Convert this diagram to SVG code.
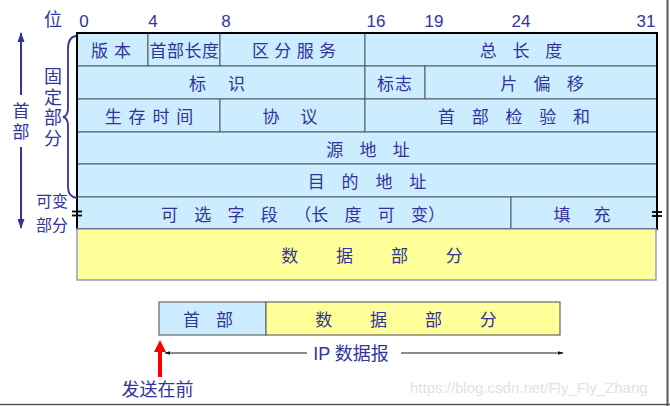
<svg xmlns="http://www.w3.org/2000/svg" width="670" height="406" viewBox="0 0 670 406">
<defs>
<style>
.t{font-family:"Noto Sans CJK SC","Liberation Sans",sans-serif;font-size:17px;fill:#333399;text-anchor:middle}
.n{font-family:"Liberation Sans","Noto Sans CJK SC",sans-serif;font-size:17px;fill:#333399;text-anchor:middle}
.v{font-family:"Noto Sans CJK SC",sans-serif;font-size:18px;fill:#333399;text-anchor:middle}
.vt{font-family:"Noto Sans CJK SC",sans-serif;fill:#333399;writing-mode:vertical-rl;text-anchor:start}
.c{fill:#CCECFF;stroke:#4d5a66;stroke-width:1}
.y{fill:#FFFF99;stroke:#9a9acc;stroke-width:1.5}
.yb{fill:#FFFF99;stroke:#666;stroke-width:1.2}
.cb{fill:#CCECFF;stroke:#666;stroke-width:1.2}
.ar{stroke:#333399;stroke-width:2;fill:none}
.thin{stroke:#666;stroke-width:1.3;fill:none}
</style>
<marker id="ah" viewBox="0 0 10 10" refX="9" refY="5" markerWidth="10" markerHeight="10" markerUnits="userSpaceOnUse" orient="auto"><path d="M0,1.5 L10,5 L0,8.5 Z" fill="#333399"/></marker>
<marker id="sh" viewBox="0 0 10 10" refX="9" refY="5" markerWidth="6" markerHeight="6" markerUnits="userSpaceOnUse" orient="auto"><path d="M0,2 L10,5 L0,8 Z" fill="#111"/></marker>
</defs>
<rect width="670" height="406" fill="#fff"/>
<g id="frame"><line x1="667.5" y1="0" x2="667.5" y2="406" stroke="#555" stroke-width="2"/><line x1="0" y1="404.5" x2="670" y2="404.5" stroke="#555" stroke-width="1.5"/></g>
<g id="bits">
<text class="v" x="53" y="26">位</text>
<text class="n" x="84" y="27">0</text>
<text class="n" x="153" y="27">4</text>
<text class="n" x="226" y="27">8</text>
<text class="n" x="376" y="27">16</text>
<text class="n" x="434" y="27">19</text>
<text class="n" x="521" y="27">24</text>
<text class="n" x="646" y="27">31</text>
</g>
<g id="ver"><rect class="c" x="77" y="33" width="71" height="33"/><text class="t" x="111" y="57" word-spacing="2">版 本</text></g>
<g id="ihl"><rect class="c" x="148" y="33" width="72" height="33"/><text class="t" x="184.5" y="57" letter-spacing="0.5">首部长度</text></g>
<g id="ds"><rect class="c" x="220" y="33" width="145" height="33"/><text class="t" x="294" y="57" word-spacing="1.5">区 分 服 务</text></g>
<g id="tl"><rect class="c" x="365" y="33" width="292" height="33"/><text class="t" x="521" y="57" word-spacing="12">总 长 度</text></g>
<g id="idf"><rect class="c" x="77" y="66" width="288" height="33"/><text class="t" x="217" y="90" word-spacing="18">标 识</text></g>
<g id="flags"><rect class="c" x="365" y="66" width="60" height="33"/><text class="t" x="395" y="90" letter-spacing="1">标志</text></g>
<g id="frag"><rect class="c" x="425" y="66" width="232" height="33"/><text class="t" x="542" y="90" word-spacing="12.5">片 偏 移</text></g>
<g id="ttl"><rect class="c" x="77" y="99" width="143" height="33"/><text class="t" x="149" y="123" word-spacing="3">生 存 时 间</text></g>
<g id="proto"><rect class="c" x="220" y="99" width="145" height="33"/><text class="t" x="290" y="123" word-spacing="17">协 议</text></g>
<g id="cksum"><rect class="c" x="365" y="99" width="292" height="33"/><text class="t" x="514" y="123" word-spacing="13">首 部 检 验 和</text></g>
<g id="src"><rect class="c" x="77" y="132" width="580" height="32"/><text class="t" x="368" y="155.5" word-spacing="12.5">源 地 址</text></g>
<g id="dst"><rect class="c" x="77" y="164" width="580" height="33"/><text class="t" x="367" y="188" word-spacing="13">目 的 地 址</text></g>
<g id="opt"><rect class="c" x="77" y="197" width="434" height="32"/><text class="t" x="303" y="220.5" word-spacing="12.5">可 选 字 段 （长 度 可 变）</text></g>
<g id="pad"><rect class="c" x="511" y="197" width="146" height="32"/><text class="t" x="582" y="220.5" word-spacing="19">填 充</text></g>
<rect x="77" y="33" width="580" height="196" fill="none" stroke="#000" stroke-width="2"/>
<g id="data"><rect class="y" x="77" y="229" width="579" height="51"/><text class="t" x="372" y="262" word-spacing="34">数 据 部 分</text></g>
<g id="breaks" stroke="#000" stroke-width="1.8">
<line x1="72" y1="211.5" x2="82" y2="211.5"/><line x1="72" y1="215.5" x2="82" y2="215.5"/>
<line x1="652" y1="212" x2="662" y2="212"/><line x1="652" y1="216" x2="662" y2="216"/>
</g>
<g id="brace"><path d="M76,36 Q68,37 68,49 L68,108 Q68,116 63,117 Q68,118 68,126 L68,187 Q68,197 77,198" fill="none" stroke="#333399" stroke-width="1.8"/></g>
<g id="fixed"><text class="vt" x="53" y="67" style="font-size:18px;letter-spacing:2.7px">固定部分</text></g>
<g id="var"><text class="t" x="52" y="207" style="font-size:16px">可变</text><text class="t" x="52" y="230.5" style="font-size:16px">部分</text></g>
<g id="hdrlabel"><text class="vt" x="21" y="102" style="font-size:17px;letter-spacing:4px">首部</text></g>
<g id="bhdr"><rect class="cb" x="159" y="302" width="107" height="33"/><text class="t" x="208" y="326" word-spacing="12">首 部</text></g>
<g id="bdata"><rect class="yb" x="266" y="302" width="294" height="33"/><text class="t" x="406" y="326" word-spacing="34">数 据 部 分</text></g>
<g id="iplabel"><text class="n" x="351" y="360" style="font-size:18px">IP 数据报</text></g>
<g id="send"><text class="v" x="157.5" y="396">发送在前</text></g>
<g id="connectors">
<line class="ar" x1="21" y1="95" x2="21" y2="33" marker-end="url(#ah)"/>
<line class="ar" x1="21" y1="147" x2="21" y2="228" marker-end="url(#ah)"/>
<line class="thin" x1="307" y1="353" x2="165" y2="353" marker-end="url(#sh)"/>
<line class="thin" x1="401" y1="353" x2="563" y2="353" marker-end="url(#sh)"/>
<path d="M158,377 L158,352 L154,352 L160,340 L166,352 L162,352 L162,377 Z" fill="#ff0000"/>
</g>
<g id="watermark"><text x="410" y="393" style="font-family:'Liberation Sans',sans-serif;font-size:15px;fill:#e2e2e2">https://blog.csdn.net/Fly_Fly_Zhang</text></g>
</svg>
